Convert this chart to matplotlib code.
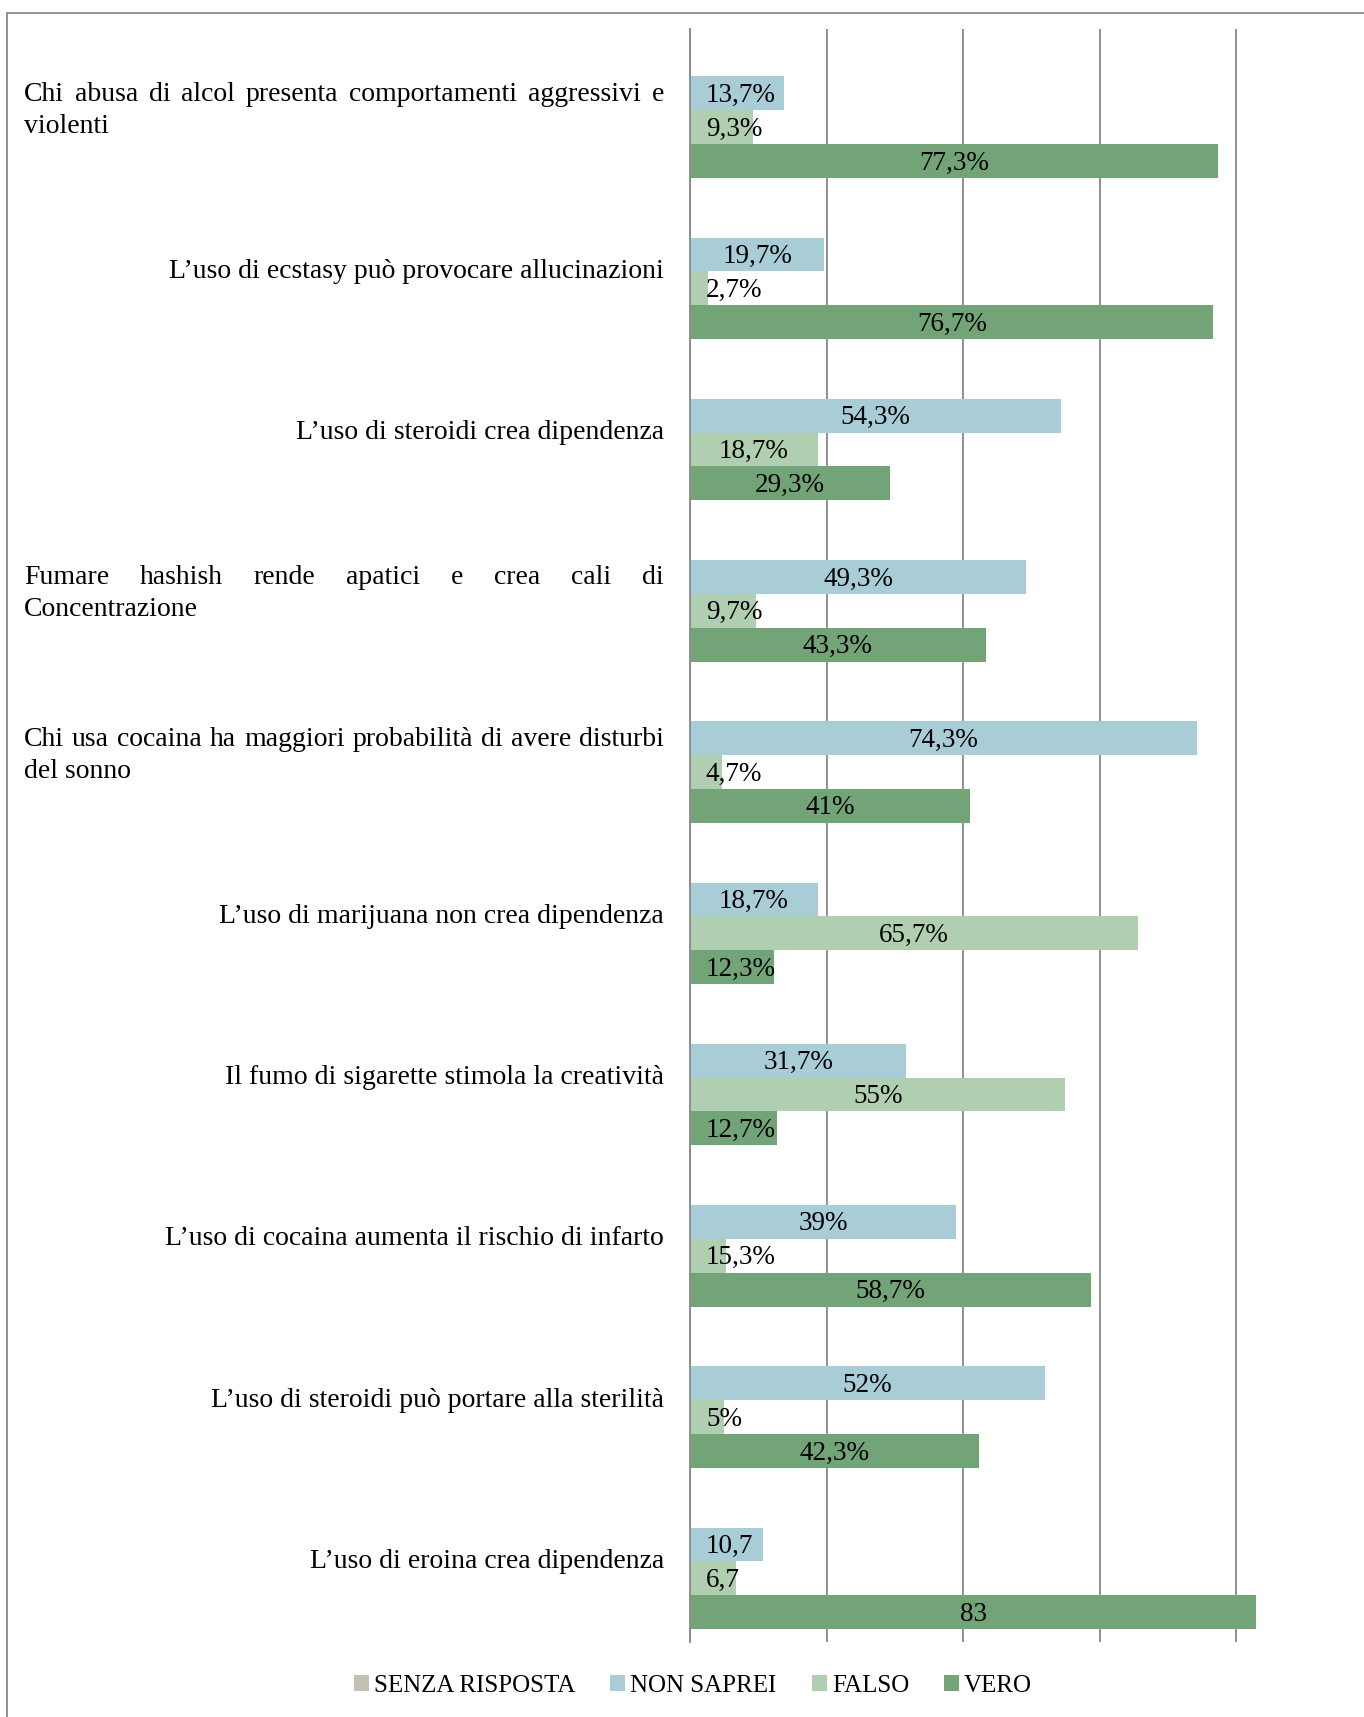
import matplotlib
matplotlib.use("Agg")
import matplotlib.pyplot as plt
from matplotlib.patches import Patch
from matplotlib.lines import Line2D
import matplotlib.transforms as mtransforms
import numpy as np

plt.rcParams['font.family'] = ['Liberation Serif', 'DejaVu Serif']

categories = [
    "Chi abusa di alcol presenta comportamenti aggressivi e violenti",
    "L\u2019uso di ecstasy può provocare allucinazioni",
    "L\u2019uso di steroidi crea dipendenza",
    "Fumare hashish rende apatici e crea cali di Concentrazione",
    "Chi usa cocaina ha maggiori probabilità di avere disturbi del sonno",
    "L\u2019uso di marijuana non crea dipendenza",
    "Il fumo di sigarette stimola la creatività",
    "L\u2019uso di cocaina aumenta il rischio di infarto",
    "L\u2019uso di steroidi può portare alla sterilità",
    "L\u2019uso di eroina crea dipendenza",
]
# how category labels wrap (first line is justified when two lines)
label_lines = [
    ["Chi abusa di alcol presenta comportamenti aggressivi e", "violenti"],
    ["L\u2019uso di ecstasy può provocare allucinazioni"],
    ["L\u2019uso di steroidi crea dipendenza"],
    ["Fumare hashish rende apatici e crea cali di", "Concentrazione"],
    ["Chi usa cocaina ha maggiori probabilità di avere disturbi", "del sonno"],
    ["L\u2019uso di marijuana non crea dipendenza"],
    ["Il fumo di sigarette stimola la creatività"],
    ["L\u2019uso di cocaina aumenta il rischio di infarto"],
    ["L\u2019uso di steroidi può portare alla sterilità"],
    ["L\u2019uso di eroina crea dipendenza"],
]

series_names = ["SENZA RISPOSTA", "NON SAPREI", "FALSO", "VERO"]
senza_risposta = [0, 0, 0, 0, 0, 0, 0, 0, 0, 0]
non_saprei = [13.7, 19.7, 54.3, 49.3, 74.3, 18.7, 31.7, 39, 52, 10.7]
falso = [9.3, 2.7, 18.7, 9.7, 4.7, 65.7, 55, 5.3, 5, 6.7]
vero = [77.3, 76.7, 29.3, 43.3, 41, 12.3, 12.7, 58.7, 42.3, 83]
non_saprei_labels = ["13,7%", "19,7%", "54,3%", "49,3%", "74,3%", "18,7%", "31,7%", "39%", "52%", "10,7"]
falso_labels = ["9,3%", "2,7%", "18,7%", "9,7%", "4,7%", "65,7%", "55%", "15,3%", "5%", "6,7"]
vero_labels = ["77,3%", "76,7%", "29,3%", "43,3%", "41%", "12,3%", "12,7%", "58,7%", "42,3%", "83"]

colors = ["#C3C1B0", "#A9CDD7", "#B0CFB1", "#72A478"]

W, H = 1364, 1717
fig = plt.figure(figsize=(W / 100, H / 100), dpi=100)

ax_left = 690 / W
ax_top = 29.5
ax_bottom = 1642
ax = fig.add_axes([ax_left, 1 - ax_bottom / H, 682.5 / W, (ax_bottom - ax_top) / H])

n = len(categories)
y = np.arange(n)
h = 0.21
all_vals = [senza_risposta, non_saprei, falso, vero]
all_labels = [None, non_saprei_labels, falso_labels, vero_labels]
offsets = [-1.5 * h, -0.5 * h, 0.5 * h, 1.5 * h]

for vals, off, col in zip(all_vals, offsets, colors):
    ax.barh(y + off, vals, height=h, color=col, edgecolor='none', zorder=3)

ax.set_xlim(0, 100)
ax.set_ylim(n - 0.5, -0.5)
ax.set_xticks([0, 20, 40, 60, 80, 100])
ax.set_yticks([])
ax.tick_params(axis='x', length=0, labelbottom=False)
ax.grid(axis='x', color='#888888', linewidth=1.3, zorder=0)
for s in ['top', 'right', 'bottom']:
    ax.spines[s].set_visible(False)
ax.spines['left'].set_color('#888888')
ax.spines['left'].set_linewidth(1.3)
ax.spines['left'].set_zorder(4)

fig.canvas.draw()
renderer = fig.canvas.get_renderer()
axis_x0 = ax.transData.transform((0, 0))[0]
lab_trans = mtransforms.offset_copy(ax.transData, fig=fig, x=0, y=-2, units='dots')

# value labels
for vals, labs, off in zip(all_vals, all_labels, offsets):
    if labs is None:
        continue
    for i, (v, lab) in enumerate(zip(vals, labs)):
        t = ax.text(v / 2, i + off, lab, ha='center', va='center', fontsize=19.5,
                    color='black', zorder=5, transform=lab_trans)
        bb = t.get_window_extent(renderer)
        if bb.x0 < axis_x0 + 16:
            t.set_ha('left')
            xd = axis_x0 + 16
            xdata = ax.transData.inverted().transform((xd, 0))[0]
            t.set_x(xdata)

# category labels (justified first line for two-line labels)
left_px, right_px = 24, 664
line_gap = 32
fs_cat = 20
for i, lines in enumerate(label_lines):
    yc = ax.transData.transform((0, i))[1]
    if len(lines) == 1:
        fig.text(right_px / W, yc / H, lines[0], ha='right', va='center', fontsize=fs_cat)
    else:
        y1 = yc + line_gap / 2
        y2 = yc - line_gap / 2
        words = lines[0].split()
        widths = []
        objs = []
        for w in words:
            t = fig.text(0, y1 / H, w, ha='left', va='center', fontsize=fs_cat)
            widths.append(t.get_window_extent(renderer).width)
            objs.append(t)
        gap = (right_px - left_px - sum(widths)) / (len(words) - 1)
        x = left_px
        for t, wd in zip(objs, widths):
            t.set_x(x / W)
            x += wd + gap
        fig.text(left_px / W, y2 / H, lines[1], ha='left', va='center', fontsize=fs_cat)

# frame
fig.add_artist(Line2D([7 / W, 7 / W], [0, 1 - 13 / H], transform=fig.transFigure,
                      color='#8a8a8a', linewidth=1.3))
fig.add_artist(Line2D([7 / W, 1], [1 - 13 / H, 1 - 13 / H], transform=fig.transFigure,
                      color='#8a8a8a', linewidth=1.3))

handles = [Patch(facecolor=c, edgecolor='none') for c in colors]
fig.legend(handles, series_names, loc='center', bbox_to_anchor=(693 / W, 1 - 1686 / H),
           ncol=4, frameon=False, fontsize=18, handlelength=0.6, handleheight=0.6,
           handletextpad=0.2, columnspacing=1.4)

fig.savefig("out.png", dpi=100)
